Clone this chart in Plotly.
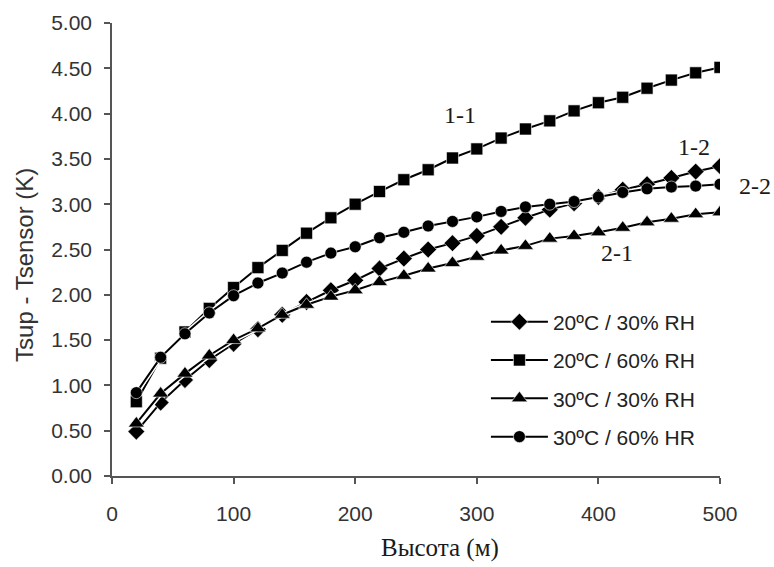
import plotly.graph_objects as go

# Height above ground (m)
heights = [20, 40, 60, 80, 100, 120, 140, 160, 180, 200, 220, 240, 260,
           280, 300, 320, 340, 360, 380, 400, 420, 440, 460, 480, 500]

# Tsup - Tsensor (K) for each test condition
t20_rh30 = [0.49, 0.81, 1.06, 1.28, 1.46, 1.62, 1.78, 1.92, 2.05, 2.16, 2.29, 2.40, 2.50,
            2.57, 2.65, 2.75, 2.85, 2.94, 3.01, 3.08, 3.16, 3.22, 3.29, 3.36, 3.42]
t20_rh60 = [0.82, 1.30, 1.59, 1.85, 2.08, 2.30, 2.49, 2.68, 2.85, 3.00, 3.14, 3.27, 3.38,
            3.51, 3.61, 3.73, 3.83, 3.92, 4.03, 4.12, 4.18, 4.28, 4.37, 4.45, 4.51]
t30_rh30 = [0.58, 0.91, 1.13, 1.33, 1.50, 1.63, 1.78, 1.89, 1.98, 2.05, 2.14, 2.21, 2.29,
            2.35, 2.42, 2.49, 2.54, 2.62, 2.65, 2.69, 2.74, 2.80, 2.84, 2.89, 2.91]
t30_rh60 = [0.92, 1.31, 1.57, 1.80, 1.99, 2.13, 2.24, 2.36, 2.46, 2.53, 2.63, 2.69, 2.76,
            2.81, 2.86, 2.92, 2.97, 3.00, 3.03, 3.08, 3.13, 3.17, 3.19, 3.20, 3.22]

series_names = ["20ºC / 30% RH", "20ºC / 60% RH", "30ºC / 30% RH", "30ºC / 60% HR"]
series_values = [t20_rh30, t20_rh60, t30_rh30, t30_rh60]
symbols = ["diamond", "square", "triangle-up", "circle"]
sizes = [13, 12, 14, 12]

# Curve labels (positions in axis units; 2-2 sits just right of the axis end)
curve_labels = ["1-1", "1-2", "2-2", "2-1"]
label_x = [286, 479, 529, 415]
label_y = [3.98, 3.63, 3.20, 2.46]

X_MAX = 500
Y_MAX = 5

fig = go.Figure()

for i, (name, vals, sym, sz) in enumerate(zip(series_names, series_values, symbols, sizes)):
    # white halo under each curve so overlapping curves stay distinguishable
    fig.add_trace(go.Scatter(
        x=heights, y=vals, mode="lines",
        line=dict(color="white", width=5),
        showlegend=False, hoverinfo="skip",
    ))
    fig.add_trace(go.Scatter(
        x=heights, y=vals, mode="lines+markers", name=name,
        legendgroup=f"g{i}",
        line=dict(color="black", width=2),
        marker=dict(symbol=sym, size=sz, color="black",
                    line=dict(color="white", width=0.6)),
    ))

for txt, lx, ly in zip(curve_labels, label_x, label_y):
    fig.add_annotation(
        x=lx / X_MAX, y=ly / Y_MAX, xref="paper", yref="paper",
        xanchor="center", yanchor="middle",
        text=txt, showarrow=False,
        font=dict(family="Liberation Serif", size=24, color="#1a1a1a"),
    )

# x-axis title
fig.add_annotation(
    x=270 / X_MAX, y=-0.16, xref="paper", yref="paper", text="Высота (м)",
    showarrow=False, xanchor="center", yanchor="middle",
    font=dict(family="Liberation Serif", size=25, color="#1a1a1a"),
)

# y-axis title
fig.add_annotation(
    x=-0.143, y=0.466, xref="paper", yref="paper", text="Tsup - Tsensor (K)",
    showarrow=False, textangle=-90, xanchor="center", yanchor="middle",
    font=dict(family="Liberation Sans", size=24, color="#333333"),
)

axis_font = dict(family="Liberation Sans", size=21, color="#333333")

fig.update_layout(
    width=774, height=567,
    margin=dict(l=112, r=54, t=23, b=91),
    paper_bgcolor="white", plot_bgcolor="white",
    font=dict(family="Liberation Sans", color="#333333"),
    legend=dict(
        x=0.615, y=0.385, xanchor="left", yanchor="top",
        font=dict(family="Liberation Sans", size=21, color="#222222"),
        bgcolor="rgba(255,255,255,0)", itemwidth=57,
        tracegroupgap=8,
    ),
    xaxis=dict(
        range=[0, X_MAX], dtick=100, tick0=0,
        showgrid=False, zeroline=False,
        showline=True, linecolor="#555555", linewidth=1.5,
        ticks="outside", ticklen=6, tickcolor="#555555", tickwidth=1.5,
        tickfont=axis_font, ticklabelstandoff=12,
    ),
    yaxis=dict(
        range=[0, Y_MAX], dtick=0.5, tick0=0, tickformat=".2f",
        showgrid=False, zeroline=False,
        showline=True, linecolor="#555555", linewidth=1.5,
        ticks="outside", ticklen=6, tickcolor="#555555", tickwidth=1.5,
        tickfont=axis_font, ticklabelstandoff=8,
    ),
)

fig.write_html("out.html")
